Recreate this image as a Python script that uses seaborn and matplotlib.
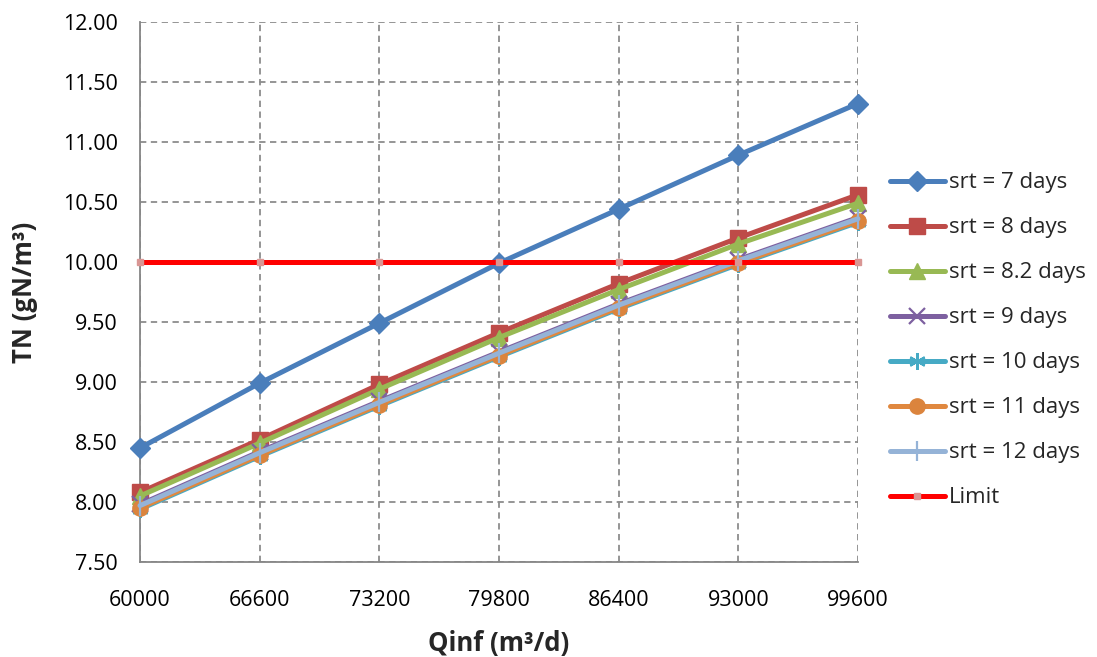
import matplotlib
matplotlib.use("Agg")
import matplotlib.pyplot as plt
import seaborn as sns
import pandas as pd
from matplotlib.ticker import FormatStrFormatter

# Influent flow (m3/d)
qinf = [60000, 66600, 73200, 79800, 86400, 93000, 99600]

# Effluent total nitrogen (gN/m3) per sludge retention time
srt_7 = [8.45, 8.99, 9.49, 9.99, 10.44, 10.89, 11.32]
srt_8 = [8.08, 8.52, 8.98, 9.41, 9.82, 10.20, 10.56]
srt_8_2 = [8.05, 8.49, 8.94, 9.37, 9.77, 10.15, 10.49]
srt_9 = [7.98, 8.42, 8.84, 9.25, 9.65, 10.02, 10.37]
srt_10 = [7.94, 8.38, 8.80, 9.21, 9.61, 9.98, 10.33]
srt_11 = [7.95, 8.39, 8.81, 9.22, 9.62, 9.99, 10.34]
srt_12 = [7.97, 8.41, 8.83, 9.24, 9.64, 10.01, 10.36]
limit = [10.0, 10.0, 10.0, 10.0, 10.0, 10.0, 10.0]

series_names = ["srt = 7 days", "srt = 8 days", "srt = 8.2 days", "srt = 9 days",
                "srt = 10 days", "srt = 11 days", "srt = 12 days", "Limit"]
series_values = [srt_7, srt_8, srt_8_2, srt_9, srt_10, srt_11, srt_12, limit]

styles = {
    "srt = 7 days":   dict(color="#4A7EBB", marker="D", ms=10, mfc="#4A7EBB", mec="#4A7EBB", mew=1),
    "srt = 8 days":   dict(color="#BE4B48", marker="s", ms=11, mfc="#BE4B48", mec="#BE4B48", mew=1),
    "srt = 8.2 days": dict(color="#98B954", marker="^", ms=12, mfc="#98B954", mec="#98B954", mew=1),
    "srt = 9 days":   dict(color="#7D60A0", marker="x", ms=11, mfc="#7D60A0", mec="#7D60A0", mew=1.6),
    "srt = 10 days":  dict(color="#46AAC5", marker=(6, 2, 0), ms=12, mfc="#46AAC5", mec="#46AAC5", mew=1.6),
    "srt = 11 days":  dict(color="#E0883F", marker="o", ms=11, mfc="#DB843D", mec="#DB843D", mew=1),
    "srt = 12 days":  dict(color="#95B3D7", marker="|", ms=14, mfc="#95B3D7", mec="#95B3D7", mew=1.6),
    "Limit":          dict(color="#FF0000", marker="s", ms=5, mfc="#D99694", mec="#D99694", mew=1),
}

df = pd.DataFrame(
    [(q, v, name) for name, vals in zip(series_names, series_values) for q, v in zip(qinf, vals)],
    columns=["Qinf", "TN", "series"],
)

sns.set_theme(style="white")
plt.rcParams["font.family"] = ["Open Sans", "DejaVu Sans"]

fig = plt.figure(figsize=(10.97, 6.57), dpi=100)
ax = fig.add_axes([0.1276, 0.1446, 0.6545, 0.822])

for name in series_names:
    st = styles[name]
    sub = df[df["series"] == name]
    sns.lineplot(
        data=sub, x="Qinf", y="TN", ax=ax, color=st["color"], linewidth=3.6,
        marker=st["marker"], markersize=st["ms"], markerfacecolor=st["mfc"],
        markeredgecolor=st["mec"], markeredgewidth=st["mew"], label=name,
        clip_on=False, zorder=3,
    )

ax.set_xlim(qinf[0], qinf[-1])
ax.set_ylim(7.5, 12.0)
ax.set_xticks(qinf)
ax.set_xticklabels([str(q) for q in qinf])
ax.set_yticks([7.5 + 0.5 * i for i in range(10)])
ax.yaxis.set_major_formatter(FormatStrFormatter("%.2f"))
ax.tick_params(axis="both", labelsize=15.5, colors="#000000", length=0)
ax.tick_params(axis="y", pad=16)
ax.tick_params(axis="x", pad=20)

ax.grid(True, color="#8C8C8C", linestyle=(0, (3.5, 2.5)), linewidth=1.3)
ax.set_axisbelow(True)
for side in ["top", "right"]:
    ax.spines[side].set_visible(False)
for side in ["left", "bottom"]:
    ax.spines[side].set_color("#868686")
    ax.spines[side].set_linewidth(1.3)

ax.set_xlabel("Qinf (m³/d)", fontsize=18.5, fontweight="bold", labelpad=14)
ax.set_ylabel("TN (gN/m³)", fontsize=18.5, fontweight="bold", labelpad=18)

leg = ax.legend(
    loc="upper left", bbox_to_anchor=(0.811, 0.7375), bbox_transform=fig.transFigure,
    frameon=False, fontsize=16, handlelength=2.5, labelspacing=1.08,
    handletextpad=0.18, borderaxespad=0, borderpad=0,
)

fig.savefig("out.png", dpi=100)
